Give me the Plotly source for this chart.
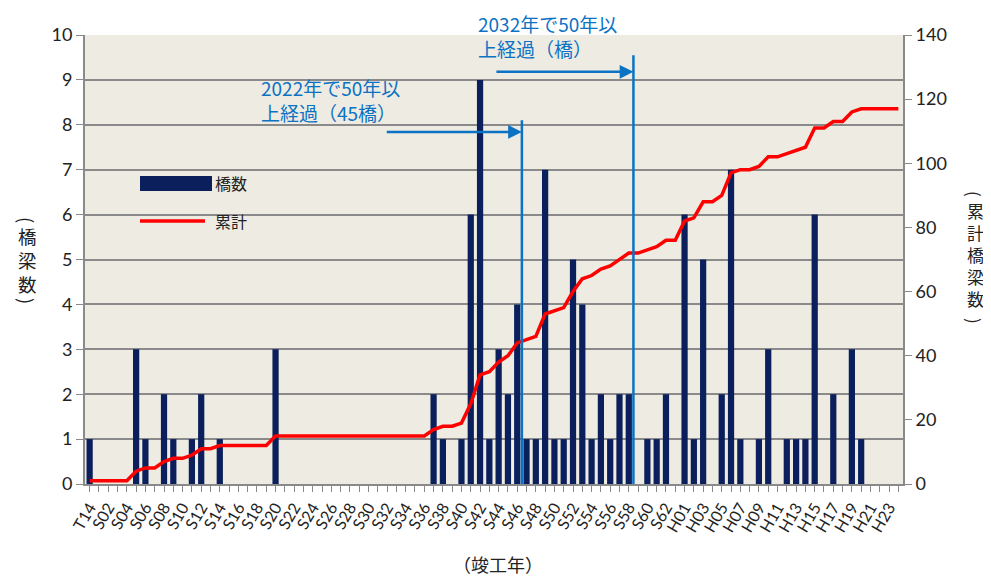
import plotly.graph_objects as go

categories = ["T14"] + [f"S{i:02d}" for i in range(1, 64)] + [f"H{i:02d}" for i in range(1, 25)]

counts = [1, 0, 0, 0, 0, 3, 1, 0, 2, 1,
          0, 1, 2, 0, 1, 0, 0, 0, 0, 0,
          3, 0, 0, 0, 0, 0, 0, 0, 0, 0,
          0, 0, 0, 0, 0, 0, 0, 2, 1, 0,
          1, 6, 9, 1, 3, 2, 4, 1, 1, 7,
          1, 1, 5, 4, 1, 2, 1, 2, 2, 0,
          1, 1, 2, 0, 6, 1, 5, 0, 2, 7,
          1, 0, 1, 3, 0, 1, 1, 1, 6, 0,
          2, 0, 3, 1, 0, 0, 0, 0]

cumulative = [1, 1, 1, 1, 1, 4, 5, 5, 7, 8,
              8, 9, 11, 11, 12, 12, 12, 12, 12, 12,
              15, 15, 15, 15, 15, 15, 15, 15, 15, 15,
              15, 15, 15, 15, 15, 15, 15, 17, 18, 18,
              19, 25, 34, 35, 38, 40, 44, 45, 46, 53,
              54, 55, 60, 64, 65, 67, 68, 70, 72, 72,
              73, 74, 76, 76, 82, 83, 88, 88, 90, 97,
              98, 98, 99, 102, 102, 103, 104, 105, 111, 111,
              113, 113, 116, 117, 117, 117, 117, 117]

tick_text = [c if i % 2 == 0 else "" for i, c in enumerate(categories)]

NAVY = "#0A1F5C"
RED = "#FF0000"
BLUE = "#0B72C4"
GRID = "#8A8A8A"
JP = "Noto Sans CJK JP"
LAT = "Lato"

# plot area in page pixels: left 85, right 903, top 35, bottom 484 (page has 8px body margin)
PL, PR, PT, PB = 85, 903, 35, 484
PW, PH = PR - PL, PB - PT


def px(x):
    return (x - PL) / PW


def py(y):
    return (PB - y) / PH


fig = go.Figure()
fig.add_trace(go.Bar(x=categories, y=counts, name="橋数", marker_color=NAVY,
                     marker_line_width=0, yaxis="y"))
fig.add_trace(go.Scatter(x=categories, y=cumulative, name="累計", mode="lines",
                         line=dict(color=RED, width=3.5), yaxis="y2"))

# 50-year markers
for xb, ytop, xstart, yarrow in [(46.5, 8.1, 31.8, 7.84), (58.5, 9.55, 43.6, 9.18)]:
    fig.add_shape(type="line", xref="x", yref="y", x0=xb, x1=xb, y0=0, y1=ytop,
                  line=dict(color=BLUE, width=2.5))
    fig.add_annotation(xref="x", yref="y", axref="x", ayref="y", x=xb, y=yarrow,
                       ax=xstart, ay=yarrow, showarrow=True, arrowhead=2,
                       arrowsize=1.1, arrowwidth=2.5, arrowcolor=BLUE, text="")

fig.add_annotation(xref="paper", yref="paper", x=px(259), y=py(72),
                   xanchor="left", yanchor="top", align="left", showarrow=False,
                   text="2022年で50年以<br>上経過（45橋）",
                   font=dict(family=JP, size=19, color=BLUE))
fig.add_annotation(xref="paper", yref="paper", x=px(476), y=py(8),
                   xanchor="left", yanchor="top", align="left", showarrow=False,
                   text="2032年で50年以<br>上経過（橋）",
                   font=dict(family=JP, size=19, color=BLUE))

# custom legend
fig.add_shape(type="rect", xref="paper", yref="paper",
              x0=px(140), x1=px(212), y0=py(191), y1=py(176),
              fillcolor=NAVY, line_width=0)
fig.add_shape(type="line", xref="paper", yref="paper",
              x0=px(140), x1=px(205), y0=py(221), y1=py(221),
              line=dict(color=RED, width=3.5))
fig.add_annotation(xref="paper", yref="paper", x=px(213), y=py(183),
                   xanchor="left", yanchor="middle", showarrow=False, text="橋数",
                   font=dict(family=JP, size=16, color="#222"))
fig.add_annotation(xref="paper", yref="paper", x=px(213), y=py(221),
                   xanchor="left", yanchor="middle", showarrow=False, text="累計",
                   font=dict(family=JP, size=16, color="#222"))

# axis titles (vertical stacked, upright characters with rotated brackets)
def vertical_title(xc, chars_text, yc, y_open, y_close, size):
    fig.add_annotation(xref="paper", yref="paper", x=px(xc), y=py(yc),
                       xanchor="center", yanchor="middle", showarrow=False,
                       text=chars_text, font=dict(family=JP, size=size, color="#222"))
    fig.add_annotation(xref="paper", yref="paper", x=px(xc), y=py(y_open),
                       xanchor="center", yanchor="middle", showarrow=False,
                       text="(", textangle=90, font=dict(family=JP, size=size, color="#222"))
    fig.add_annotation(xref="paper", yref="paper", x=px(xc), y=py(y_close),
                       xanchor="center", yanchor="middle", showarrow=False,
                       text=")", textangle=90, font=dict(family=JP, size=size, color="#222"))


vertical_title(27, "橋<br>梁<br>数", 260, 220, 301, 18.5)
vertical_title(975, "累<br>計<br>橋<br>梁<br>数", 254, 194, 321, 17)

fig.add_annotation(xref="paper", yref="paper", x=px(498), y=py(564),
                   xanchor="center", yanchor="middle", showarrow=False,
                   text="（竣工年）",
                   font=dict(family=JP, size=18, color="#222"))

fig.update_layout(
    width=983, height=568,
    margin=dict(l=PL - 8, r=991 - PR, t=PT - 8, b=576 - PB),
    paper_bgcolor="white", plot_bgcolor="#EDEBE2",
    showlegend=False, bargap=0.33,
    xaxis=dict(type="category", range=[-0.5, 87.5], tickmode="array",
               tickvals=categories, ticktext=tick_text, tickangle=-60,
               ticks="outside", ticklen=6, tickcolor=GRID, showline=True,
               linecolor=GRID, linewidth=2, showgrid=False, automargin=False,
               tickfont=dict(family=LAT, size=16, color="#222")),
    yaxis=dict(range=[0, 10], dtick=1, ticks="outside", ticklen=7, tickcolor=GRID,
               showline=True, linecolor=GRID, linewidth=2, gridcolor=GRID,
               gridwidth=1.5, zeroline=False, automargin=False,
               tickfont=dict(family=LAT, size=18, color="#222")),
    yaxis2=dict(range=[0, 140], dtick=20, overlaying="y", side="right",
                ticks="outside", ticklen=7, tickcolor=GRID, showline=True,
                linecolor=GRID, linewidth=2, showgrid=False, zeroline=False,
                automargin=False,
                tickfont=dict(family=LAT, size=18, color="#222")),
)

fig.write_html("out.html")
